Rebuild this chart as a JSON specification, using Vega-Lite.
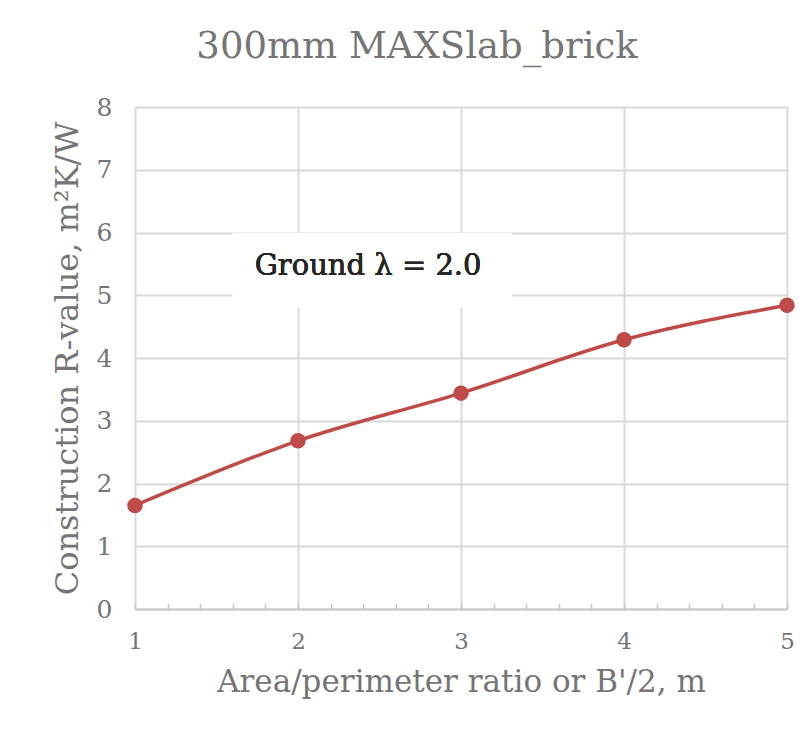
{
  "$schema": "https://vega.github.io/schema/vega-lite/v6.json",
  "width": 652,
  "height": 502,
  "autosize": {"type": "none"},
  "padding": {"left": 135, "top": 107, "right": 24, "bottom": 124},
  "background": "white",
  "title": {
    "text": "300mm MAXSlab_brick",
    "font": "DejaVu Serif",
    "fontSize": 37,
    "fontWeight": "normal",
    "color": "#757575",
    "anchor": "middle",
    "dx": -44,
    "offset": 29
  },
  "config": {
    "view": {"stroke": null},
    "font": "DejaVu Serif"
  },
  "data": {
    "values": [
      {"x": 1, "r": 1.65},
      {"x": 2, "r": 2.68},
      {"x": 3, "r": 3.44},
      {"x": 4, "r": 4.29},
      {"x": 5, "r": 4.84}
    ]
  },
  "layer": [
    {
      "mark": {
        "type": "line",
        "interpolate": "monotone",
        "color": "#BE4B48",
        "strokeWidth": 3.5,
        "point": {"filled": true, "size": 240, "color": "#BE4B48", "opacity": 1}
      },
      "encoding": {
        "x": {
          "field": "x",
          "type": "quantitative",
          "scale": {"domain": [1, 5], "nice": false, "zero": false},
          "axis": {
            "title": "Area/perimeter ratio or B'/2, m",
            "values": [1, 1.2, 1.4, 1.6, 1.8, 2, 2.2, 2.4, 2.6, 2.8, 3, 3.2, 3.4, 3.6, 3.8, 4, 4.2, 4.4, 4.6, 4.8, 5],
            "tickCount": 40,
            "labelExpr": "abs(datum.value - round(datum.value)) < 0.01 ? format(datum.value, 'd') : ''",
            "labelFlush": false,
            "labelOverlap": false,
            "labelFont": "DejaVu Serif",
            "labelFontSize": 23,
            "labelColor": "#757575",
            "labelPadding": 27,
            "grid": true,
            "gridColor": "#d9d9d9",
            "gridWidth": 2,
            "gridOpacity": {"condition": {"test": "abs(datum.value - round(datum.value)) < 0.01", "value": 1}, "value": 0},
            "domainColor": "#c8c8c8",
            "domainWidth": 2,
            "ticks": true,
            "tickColor": "#c8c8c8",
            "tickWidth": 1.5,
            "tickSize": -6,
            "titleFont": "DejaVu Serif",
            "titleFontSize": 31,
            "titleFontWeight": "normal",
            "titleColor": "#757575",
            "titlePadding": 14
          }
        },
        "y": {
          "field": "r",
          "type": "quantitative",
          "scale": {"domain": [0, 8], "nice": false},
          "axis": {
            "title": "Construction R-value, m²K/W",
            "values": [0, 1, 2, 3, 4, 5, 6, 7, 8],
            "tickCount": 20,
            "format": "d",
            "labelFont": "DejaVu Serif",
            "labelFontSize": 25,
            "labelColor": "#757575",
            "labelPadding": 23,
            "ticks": false,
            "domain": false,
            "grid": true,
            "gridColor": "#d9d9d9",
            "gridWidth": 2,
            "titleFont": "DejaVu Serif",
            "titleFontSize": 32,
            "titleFontWeight": "normal",
            "titleColor": "#757575",
            "titlePadding": 12
          }
        }
      }
    },
    {
      "mark": {"type": "rect", "fill": "white"},
      "encoding": {
        "x": {"datum": 1.6, "type": "quantitative"},
        "x2": {"datum": 3.31},
        "y": {"datum": 5.99, "type": "quantitative"},
        "y2": {"datum": 4.8}
      }
    },
    {
      "mark": {"type": "text", "font": "DejaVu Serif", "fontSize": 29, "fontWeight": "normal", "color": "#262626", "align": "center", "baseline": "middle"},
      "encoding": {
        "x": {"datum": 2.43, "type": "quantitative"},
        "y": {"datum": 5.47, "type": "quantitative"},
        "text": {"value": "Ground λ = 2.0"}
      }
    }
  ]
}
